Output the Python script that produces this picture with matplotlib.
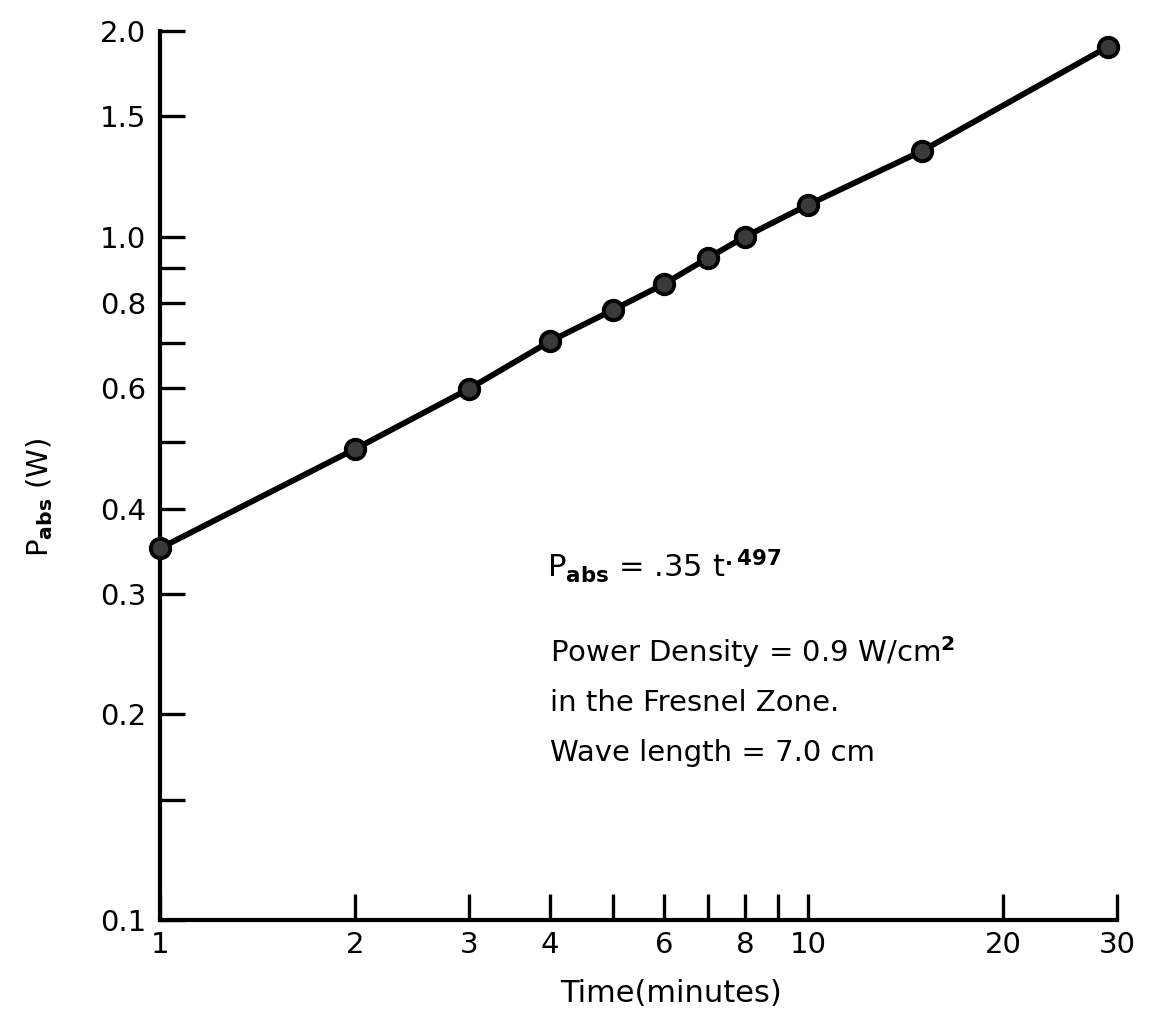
import matplotlib
matplotlib.use("Agg")
import matplotlib.pyplot as plt

# measured points (time in minutes, absorbed power in W)
t_min = [1, 2, 3, 4, 5, 6, 7, 8, 10, 15, 29]
p_abs = [0.35, 0.489, 0.599, 0.703, 0.781, 0.853, 0.930, 1.0, 1.113, 1.335, 1.895]

x_ticks = [1, 2, 3, 4, 5, 6, 7, 8, 9, 10, 20, 30]
x_labels = ["1", "2", "3", "4", "", "6", "", "8", "", "10", "20", "30"]
y_ticks = [0.1, 0.15, 0.2, 0.3, 0.4, 0.5, 0.6, 0.7, 0.8, 0.9, 1.0, 1.5, 2.0]
y_labels = ["0.1", "", "0.2", "0.3", "0.4", "", "0.6", "", "0.8", "", "1.0", "1.5", "2.0"]

plt.rcParams["font.family"] = ["DejaVu Sans"]
plt.rcParams["mathtext.fontset"] = "dejavusans"

fig = plt.figure(figsize=(11.51, 10.26), dpi=100)
ax = fig.add_axes([0.139, 0.1033, 0.8315, 0.8665])

ax.plot(t_min, p_abs, color="black", linewidth=4.2, marker="o",
        markersize=14, markerfacecolor="#3a3a3a", markeredgecolor="black",
        markeredgewidth=2.8, clip_on=False, zorder=3)

ax.set_xscale("log")
ax.set_yscale("log")
ax.set_xlim(1, 30)
ax.set_ylim(0.1, 2.0)

ax.xaxis.set_major_locator(matplotlib.ticker.FixedLocator(x_ticks))
ax.xaxis.set_major_formatter(matplotlib.ticker.FixedFormatter(x_labels))
ax.xaxis.set_minor_locator(matplotlib.ticker.NullLocator())
ax.yaxis.set_major_locator(matplotlib.ticker.FixedLocator(y_ticks))
ax.yaxis.set_major_formatter(matplotlib.ticker.FixedFormatter(y_labels))
ax.yaxis.set_minor_locator(matplotlib.ticker.NullLocator())

ax.spines["top"].set_visible(False)
ax.spines["right"].set_visible(False)
ax.spines["left"].set_linewidth(3)
ax.spines["bottom"].set_linewidth(3)

ax.tick_params(axis="x", direction="in", length=19, width=2.4,
               labelsize=21, pad=8)
ax.tick_params(axis="y", direction="in", length=18, width=2.4,
               labelsize=21, pad=10)

ax.set_xlabel("Time(minutes)", fontsize=22)
ax.xaxis.set_label_coords(0.534, -0.066)
ax.set_ylabel(r"P$_{\mathbf{abs}}$ (W)", fontsize=21)
ax.yaxis.set_label_coords(-0.11, 0.475)

ax.text(3.95, 0.317, r"P$_{\mathbf{abs}}$ = .35 t$^{\mathbf{.497}}$",
        fontsize=22, va="baseline")
ax.text(4.0, 0.247, r"Power Density = 0.9 W/cm$^{\mathbf{2}}$", fontsize=21,
        va="center")
ax.text(4.0, 0.208, "in the Fresnel Zone.", fontsize=21, va="center")
ax.text(4.0, 0.1755, "Wave length = 7.0 cm", fontsize=21, va="center")

fig.savefig("out.png", dpi=100)
